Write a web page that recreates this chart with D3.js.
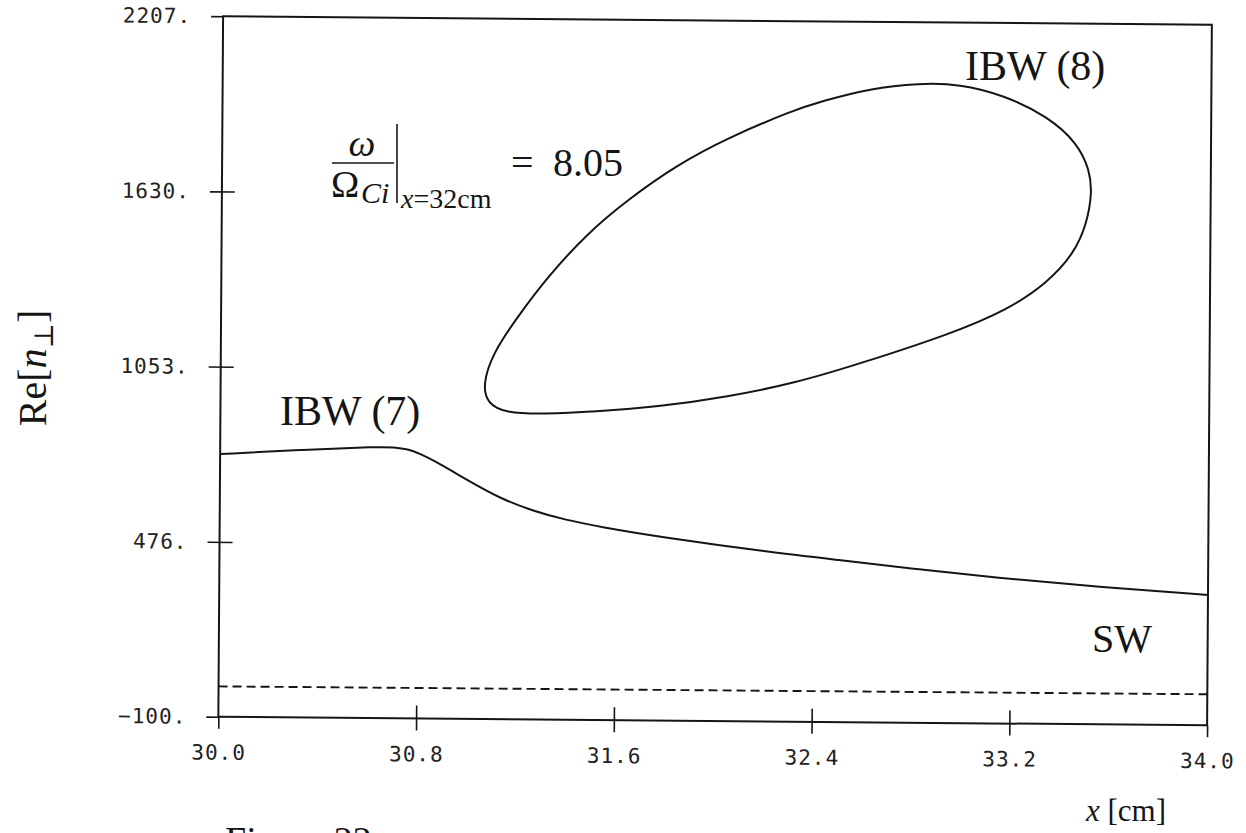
<!DOCTYPE html>
<html>
<head>
<meta charset="utf-8">
<script src="https://cdn.jsdelivr.net/npm/d3@7"></script>
<style>
body { margin: 0; background: #fff; }
</style>
</head>
<body>
<svg id="chart" width="1246" height="833"></svg>
<script>
// axis ticks
const xTicks = [30.0, 30.8, 31.6, 32.4, 33.2, 34.0];
const xTickLabels = ["30.0", "30.8", "31.6", "32.4", "33.2", "34.0"];
const yTicks = [-100, 476, 1053, 1630, 2207];
const yTickLabels = ["\u2212100.", "476.", "1053.", "1630.", "2207."];

// IBW (7) branch
const ibw7X = [30.00, 30.32, 30.65, 30.70, 30.76, 30.81, 30.86, 31.00, 31.13, 31.27, 31.40, 31.54, 31.78, 32.21, 32.50, 32.82, 33.14, 33.54, 34.00];
const ibw7Y = [765, 781, 794, 792, 787, 771, 752, 687, 628, 586, 558, 536, 505, 459, 434, 406, 380, 353, 329];

// IBW (8) closed loop
const ibw8X = [31.06, 31.08, 31.15, 31.31, 31.51, 31.78, 32.05, 32.32, 32.59, 32.96, 33.18, 33.34, 33.45, 33.50, 33.52, 33.51, 33.46, 33.34, 33.16, 32.98, 32.82, 32.62, 32.42, 32.31, 32.04, 31.84, 31.64, 31.48, 31.32, 31.20, 31.10];
const ibw8Y = [1000, 940, 909, 906, 915, 934, 968, 1014, 1082, 1184, 1262, 1351, 1451, 1550, 1649, 1725, 1813, 1900, 1970, 2005, 2006, 1988, 1943, 1914, 1819, 1730, 1613, 1503, 1358, 1226, 1105];

// SW branch (dashed)
const swX = [30.0, 34.0];
const swY = [0, 2];

let width = 988.75, height = 700.5;
let ink = "#151515";
let serif = "'Liberation Serif', 'DejaVu Serif', serif";
let mono = "'DejaVu Sans Mono', 'Liberation Mono', monospace";

let x = d3.scaleLinear().domain([30, 34]).range([0, width]);
let y = d3.scaleLinear().domain([-100, 2207]).range([height, 0]);

let svg = d3.select("#chart");

// the scanned figure is slightly skewed, so the plot group is too
let plot = svg.append("g")
    .attr("transform", "matrix(1, 0.0086, -0.00678, 1, 223.1, 16.25)");

plot.append("rect")
    .attr("x", 0).attr("y", 0)
    .attr("width", width).attr("height", height)
    .attr("fill", "none")
    .attr("stroke", ink)
    .attr("stroke-width", 2);

let xAxis = plot.append("g")
    .attr("transform", "translate(0," + height + ")")
    .call(d3.axisBottom(x).tickValues(xTicks)
        .tickFormat((d, i) => xTickLabels[i])
        .tickSize(12).tickPadding(16));

let yAxis = plot.append("g")
    .call(d3.axisLeft(y).tickValues(yTicks)
        .tickFormat((d, i) => yTickLabels[i])
        .tickSize(12).tickPadding(20));

[xAxis, yAxis].forEach(g => {
    g.select(".domain").remove();
    g.attr("font-family", mono).attr("font-size", 21);
    g.selectAll("line").attr("stroke", ink).attr("stroke-width", 1.6);
    g.selectAll("text").attr("fill", "#222").style("letter-spacing", "1px");
});

// interior ticks cross the axis
xAxis.selectAll(".tick line")
    .filter(d => d !== xTicks[0] && d !== xTicks[xTicks.length - 1])
    .attr("y1", -13);
yAxis.selectAll(".tick line")
    .filter(d => d !== yTicks[0] && d !== yTicks[yTicks.length - 1])
    .attr("x1", 13);

let line = d3.line()
    .x(d => x(d[0]))
    .y(d => y(d[1]));

plot.append("path")
    .datum(ibw7X.map((v, i) => [v, ibw7Y[i]]))
    .attr("d", line.curve(d3.curveBasis))
    .attr("fill", "none")
    .attr("stroke", ink)
    .attr("stroke-width", 2);

plot.append("path")
    .datum(ibw8X.map((v, i) => [v, ibw8Y[i]]))
    .attr("d", d3.line().x(d => x(d[0])).y(d => y(d[1])).curve(d3.curveBasisClosed))
    .attr("fill", "none")
    .attr("stroke", ink)
    .attr("stroke-width", 2);

plot.append("path")
    .datum(swX.map((v, i) => [v, swY[i]]))
    .attr("d", d3.line().x(d => x(d[0])).y(d => y(d[1])))
    .attr("fill", "none")
    .attr("stroke", ink)
    .attr("stroke-width", 1.9)
    .attr("stroke-dasharray", "9,5");

// curve labels
let label = (tx, ty, s, size) => svg.append("text")
    .attr("x", tx).attr("y", ty)
    .attr("font-family", serif)
    .attr("font-size", size)
    .attr("fill", ink)
    .text(s);

label(280, 425, "IBW (7)", 42);
label(965, 80, "IBW (8)", 42);
label(1092, 652, "SW", 40);

// omega / Omega_Ci |_{x=32cm} = 8.05
let f = svg.append("g").attr("font-family", serif).attr("fill", ink);
f.append("text").attr("x", 362).attr("y", 156).attr("text-anchor", "middle")
    .attr("font-size", 38).attr("font-style", "italic").text("\u03c9");
f.append("line").attr("x1", 332).attr("x2", 394).attr("y1", 163).attr("y2", 163)
    .attr("stroke", ink).attr("stroke-width", 1.6);
f.append("text").attr("x", 331).attr("y", 197).attr("font-size", 38).text("\u03a9");
f.append("text").attr("x", 361).attr("y", 203).attr("font-size", 30)
    .attr("font-style", "italic").text("Ci");
f.append("line").attr("x1", 397).attr("x2", 397).attr("y1", 124).attr("y2", 203)
    .attr("stroke", ink).attr("stroke-width", 1.6);
let sub = f.append("text").attr("x", 401).attr("y", 208).attr("font-size", 28);
sub.append("tspan").attr("font-style", "italic").text("x");
sub.append("tspan").text("=32cm");
f.append("text").attr("x", 511).attr("y", 176).attr("font-size", 40).text("=");
f.append("text").attr("x", 553).attr("y", 176).attr("font-size", 40).text("8.05");

// axis titles
let yt = svg.append("text")
    .attr("transform", "translate(46,368) rotate(-90)")
    .attr("text-anchor", "middle")
    .attr("font-family", serif)
    .attr("font-size", 40)
    .attr("fill", ink);
yt.append("tspan").text("Re[");
yt.append("tspan").attr("font-style", "italic").text("n");
yt.append("tspan").attr("font-size", 27).attr("dy", 7).text("\u22a5");
yt.append("tspan").attr("dy", -7).text("]");

let xt = svg.append("text")
    .attr("x", 1086).attr("y", 821)
    .attr("font-family", serif)
    .attr("font-size", 31)
    .attr("fill", ink);
xt.append("tspan").attr("font-style", "italic").text("x");
xt.append("tspan").text(" [cm]");

label(225, 853, "Figure 22", 38);
</script>
</body>
</html>
